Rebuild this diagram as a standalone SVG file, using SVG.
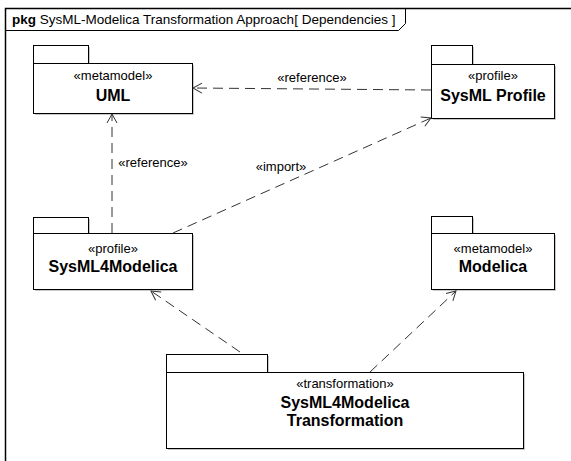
<svg xmlns="http://www.w3.org/2000/svg" width="571" height="461" viewBox="0 0 571 461">
<style>
.t{font-family:"Liberation Sans",Arial,sans-serif;fill:#000}
.st{font-size:13px;text-anchor:middle}
.nm{font-size:16px;font-weight:bold;text-anchor:middle}
.lb{font-size:13px;text-anchor:middle}
.box{fill:#fff;stroke:#000;stroke-width:1}
.sh{fill:#c8c8c8}
.dep{fill:none;stroke:#333;stroke-width:1;stroke-dasharray:10,6}
.ah{fill:none;stroke:#333;stroke-width:1}
</style>
<defs>
<marker id="open" markerWidth="12" markerHeight="12" refX="10" refY="6" orient="auto" markerUnits="userSpaceOnUse">
<path d="M1,1 L10,6 L1,11" class="ah"/>
</marker>
</defs>
<rect x="0" y="0" width="571" height="461" fill="#fff"/>
<g id="frame">
<path d="M5.5,461 L5.5,8.5 L571,8.5" fill="none" stroke="#000" stroke-width="1.5"/>
<path d="M5.5,30.5 L398.5,30.5 L405.5,23.5 L405.5,8.5" fill="none" stroke="#000" stroke-width="1"/>
<text class="t" x="12" y="24" font-size="13.5"><tspan font-weight="bold">pkg</tspan>  SysML-Modelica Transformation Approach[ Dependencies ]</text>
</g>
<g id="uml">
<rect class="sh" x="35" y="47" width="55" height="18"/>
<rect class="sh" x="35" y="65" width="159" height="50"/>
<rect class="box" x="33.5" y="45.5" width="55" height="18"/>
<rect class="box" x="33.5" y="63.5" width="159" height="50"/>
<text class="t st" x="113" y="80">«metamodel»</text>
<text class="t nm" x="113" y="101">UML</text>
</g>
<g id="sysmlprofile">
<rect class="sh" x="433" y="47" width="41" height="19"/>
<rect class="sh" x="433" y="66" width="123" height="54"/>
<rect class="box" x="431.5" y="45.5" width="41" height="19"/>
<rect class="box" x="431.5" y="64.5" width="123" height="54"/>
<text class="t st" x="493" y="80">«profile»</text>
<text class="t nm" x="493" y="101">SysML Profile</text>
</g>
<g id="sysml4modelica">
<rect class="sh" x="35" y="219" width="55" height="16"/>
<rect class="sh" x="35" y="235" width="159" height="56"/>
<rect class="box" x="33.5" y="217.5" width="55" height="16"/>
<rect class="box" x="33.5" y="233.5" width="159" height="56"/>
<text class="t st" x="113" y="253">«profile»</text>
<text class="t nm" x="113" y="272">SysML4Modelica</text>
</g>
<g id="modelica">
<rect class="sh" x="433" y="218" width="41" height="17"/>
<rect class="sh" x="433" y="235" width="123" height="56"/>
<rect class="box" x="431.5" y="216.5" width="41" height="17"/>
<rect class="box" x="431.5" y="233.5" width="123" height="56"/>
<text class="t st" x="493" y="253">«metamodel»</text>
<text class="t nm" x="493" y="272">Modelica</text>
</g>
<g id="transformation">
<rect class="sh" x="168" y="356" width="101" height="18"/>
<rect class="sh" x="168" y="374" width="357" height="76"/>
<rect class="box" x="166.5" y="354.5" width="101" height="18"/>
<rect class="box" x="166.5" y="372.5" width="357" height="76"/>
<text class="t st" x="345" y="388">«transformation»</text>
<text class="t nm" x="345" y="408">SysML4Modelica</text>
<text class="t nm" x="345" y="426">Transformation</text>
</g>
<g id="connectors">
<line class="dep" x1="431" y1="90" x2="193" y2="88" marker-end="url(#open)"/>
<text class="t lb" x="312" y="82">«reference»</text>
<line class="dep" x1="112" y1="233" x2="112" y2="114" marker-end="url(#open)"/>
<text class="t lb" x="153" y="167">«reference»</text>
<line class="dep" x1="173" y1="233" x2="431" y2="118" marker-end="url(#open)"/>
<text class="t lb" x="281" y="171">«import»</text>
<line class="dep" x1="240" y1="352" x2="151" y2="291" marker-end="url(#open)"/>
<line class="dep" x1="370" y1="372" x2="456" y2="291" marker-end="url(#open)"/>
</g>
</svg>
